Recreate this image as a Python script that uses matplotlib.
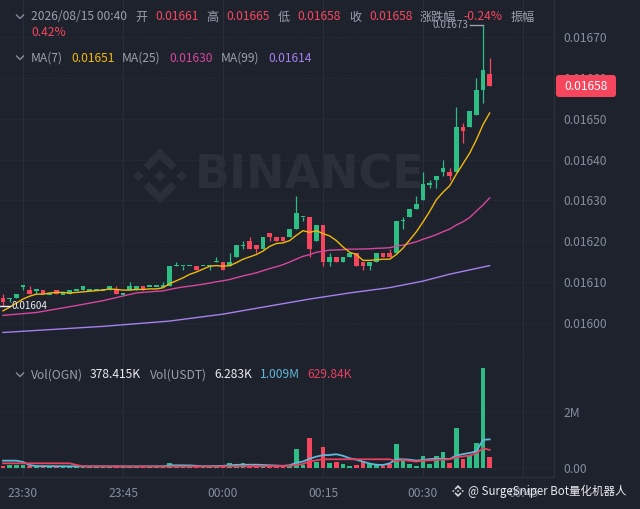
#!/usr/bin/env python3
"""
OGN/USDT 1m candles with MA(7/25/99) and volume, Binance dark style.
"""

import numpy as np
import pandas as pd
import matplotlib

matplotlib.use("Agg")
import matplotlib.pyplot as plt
from matplotlib.patches import Polygon, FancyBboxPatch
from matplotlib.lines import Line2D
from matplotlib.transforms import IdentityTransform

plt.rcParams["font.family"] = ["Noto Sans CJK SC", "DejaVu Sans"]

# 1-minute candles 23:27 .. 00:40, prices in units of 0.00001 USDT
opens = [1606, 1606, 1606, 1609, 1608, 1608, 1608, 1607, 1608, 1607,
         1607, 1608, 1608, 1608, 1608, 1608, 1608, 1608, 1607, 1608,
         1608, 1609, 1609, 1609, 1609, 1609, 1614, 1614, 1614, 1614,
         1614, 1614, 1615, 1615, 1614, 1616, 1619, 1620, 1619, 1618,
         1622, 1621, 1621, 1621, 1623, 1626, 1626, 1620, 1624, 1615,
         1616, 1615, 1616, 1617, 1615, 1614, 1615, 1617, 1617, 1617,
         1625, 1626, 1628, 1630, 1634, 1635, 1637, 1637, 1637, 1648,
         1648, 1651, 1657, 1661]
highs = [1607, 1606, 1607, 1609, 1609, 1608, 1608, 1607, 1608, 1607,
         1608, 1608, 1609, 1608, 1608, 1608, 1609, 1609, 1607, 1610,
         1609, 1609, 1609, 1609, 1610, 1614, 1615, 1614, 1614, 1614,
         1614, 1614, 1616, 1615, 1617, 1619, 1620, 1621, 1619, 1621,
         1622, 1621, 1621, 1623, 1631, 1626, 1626, 1624, 1624, 1617,
         1616, 1616, 1617, 1617, 1615, 1615, 1617, 1617, 1618, 1625,
         1626, 1628, 1631, 1637, 1635, 1636, 1640, 1638, 1653, 1649,
         1652, 1660, 1673, 1665]
lows = [1604, 1605, 1606, 1608, 1607, 1607, 1607, 1607, 1607, 1607,
        1607, 1608, 1608, 1608, 1608, 1608, 1608, 1607, 1607, 1608,
        1608, 1608, 1609, 1609, 1609, 1609, 1614, 1613, 1614, 1613,
        1614, 1613, 1615, 1613, 1614, 1616, 1618, 1618, 1617, 1618,
        1620, 1620, 1620, 1621, 1623, 1625, 1616, 1620, 1614, 1614,
        1615, 1615, 1616, 1614, 1613, 1613, 1615, 1616, 1616, 1617,
        1623, 1626, 1628, 1630, 1633, 1633, 1636, 1635, 1637, 1644,
        1648, 1651, 1654, 1658]
closes = [1605, 1606, 1607, 1609, 1607, 1608, 1607, 1607, 1607, 1607,
          1608, 1608, 1609, 1608, 1608, 1608, 1609, 1607, 1607, 1609,
          1609, 1608, 1609, 1609, 1609, 1614, 1614, 1614, 1614, 1613,
          1614, 1614, 1615, 1613, 1615, 1619, 1619, 1618, 1618, 1621,
          1621, 1620, 1620, 1623, 1627, 1626, 1618, 1624, 1615, 1616,
          1615, 1616, 1617, 1614, 1614, 1615, 1617, 1616, 1616, 1625,
          1625, 1628, 1629, 1634, 1634, 1636, 1638, 1636, 1648, 1647,
          1652, 1657, 1662, 1658]
# volume in thousand OGN
volumes_k = [70, 80, 80, 80, 70, 60, 45, 50, 40, 35,
             45, 40, 50, 30, 30, 35, 40, 35, 30, 35,
             40, 35, 30, 30, 40, 160, 45, 35, 30, 40,
             25, 25, 30, 60, 170, 80, 170, 60, 50, 70,
             40, 45, 50, 60, 680, 85, 1060, 200, 725, 165,
             200, 120, 50, 85, 200, 120, 95, 50, 120, 860,
             310, 120, 70, 405, 143, 405, 548, 167, 1430, 310,
             440, 880, 3570, 378.415]

# MA values before a full window exists
ma7_head_idx = [0, 1, 2, 3, 4, 5]
ma7_head = [1602.9, 1603.8, 1604.8, 1605.8, 1606.5, 1607.0]
ma25_head_idx = [0, 5, 11, 15, 20, 23]
ma25_head = [1601.8, 1602.5, 1604.2, 1605.4, 1607.3, 1607.7]
ma99_idx = [0, 15, 25, 33, 40, 46, 52, 58, 63, 67, 73]
ma99_vals = [1597.6, 1599.1, 1600.4, 1602.1, 1604.1, 1605.8, 1607.3, 1608.6,
             1610.2, 1611.9, 1614.0]

# volume MA(5) / MA(10) as drawn, thousand OGN
vma5_idx = [0, 2, 3, 4, 5, 10, 20, 24, 25, 28, 30, 33, 35, 38, 42, 43, 44, 45,
            46, 47, 48, 49, 50, 51, 52, 53, 54, 55, 56, 57, 58, 59, 60, 61, 62,
            63, 64, 65, 66, 67, 68, 69, 70, 71, 72, 73]
vma5_k = [245, 245, 200, 85, 50, 43, 40, 45, 80, 75, 45, 60, 95, 100, 60, 80,
          170, 215, 316, 390, 440, 450, 475, 420, 330, 280, 210, 140, 100, 90,
          150, 295, 295, 280, 245, 270, 300, 316, 310, 305, 425, 480, 520, 580,
          990, 1009]
vma10_idx = [0, 10, 11, 12, 20, 30, 40, 43, 45, 46, 48, 55, 58, 59, 60, 62, 63,
             65, 67, 68, 70, 71, 72, 73]
vma10_k = [150, 150, 90, 43, 35, 35, 50, 55, 125, 220, 295, 295, 295, 235, 270,
           210, 245, 270, 295, 367, 425, 510, 690, 630]

time_ticks = [3, 18, 33, 48, 63, 78]
time_labels = ["23:30", "23:45", "00:00", "00:15", "00:30", "00:45"]
price_ticks = [0.0160, 0.0161, 0.0162, 0.0163, 0.0164, 0.0165, 0.0166, 0.0167]

BG = "#1e222d"
GRID = "#2a2e39"
EDGE = "#2b3139"
GRAY = "#848e9c"
LABEL = "#9aa1ad"
UP = "#2ebd85"
DN = "#f6465d"
C_MA7 = "#f0b90b"
C_MA25 = "#d7479d"
C_MA99 = "#a580ec"
C_V5 = "#5fb9d8"
C_V10 = "#e8405f"
FS = 8.7

W, H = 640, 509
ID = IdentityTransform()


def main() -> None:
    o = np.array(opens) * 1e-5
    hi = np.array(highs) * 1e-5
    lo = np.array(lows) * 1e-5
    c = np.array(closes) * 1e-5
    vol = np.array(volumes_k) * 1e3
    idx = np.arange(len(c))

    fig = plt.figure(figsize=(W / 100, H / 100), dpi=100, facecolor=BG)
    ax = fig.add_axes([0, 1 - 358 / H, 554 / W, 358 / H], facecolor=BG)
    axv = fig.add_axes([0, 1 - 477 / H, 554 / W, (477 - 358) / H], facecolor=BG)

    for a in (ax, axv):
        a.set_xlim(-0.45, 82.65)
        for s in ("top", "left"):
            a.spines[s].set_visible(False)
        for s in ("bottom", "right"):
            a.spines[s].set_color(EDGE)
            a.spines[s].set_linewidth(1.0)
        a.yaxis.tick_right()
        a.tick_params(axis="y", length=0, pad=6.5, labelsize=FS, labelcolor=GRAY)
        a.set_xticks(time_ticks)
        a.grid(axis="x", color=GRID, lw=0.8)
        a.grid(axis="y", color=GRID, lw=0.8, ls=(0, (1.5, 2)))
        a.set_axisbelow(True)
    ax.tick_params(axis="x", length=0, labelbottom=False)
    axv.set_xticklabels(time_labels)
    axv.tick_params(axis="x", length=0, pad=7.5, labelsize=FS, labelcolor=GRAY)

    # ---- price panel
    ax.set_ylim(0.0159134, 0.0167915)
    ax.set_yticks(price_ticks)
    ax.set_yticklabels([f"{p:.5f}" for p in price_ticks])

    up = c >= o
    colors = np.where(up, UP, DN)
    ax.vlines(idx, lo, hi, colors=colors, lw=0.9, zorder=2)
    body = np.abs(c - o)
    min_h = 3.4e-6
    bottom = np.minimum(o, c) - np.where(body < min_h, (min_h - body) / 2, 0)
    ax.bar(idx, np.maximum(body, min_h), 0.68, bottom=bottom, color=colors,
           lw=0, zorder=3)

    cs = pd.Series(c)
    ma7 = cs.rolling(7).mean().to_numpy()
    ma25 = cs.rolling(25).mean().to_numpy()
    ma7_x = np.concatenate([ma7_head_idx, idx[6:]])
    ma7_y = np.concatenate([np.array(ma7_head) * 1e-5, ma7[6:]])
    ma25_x = np.concatenate([ma25_head_idx, idx[24:]])
    ma25_y = np.concatenate([np.array(ma25_head) * 1e-5, ma25[24:]])
    ax.plot(ma99_idx, np.array(ma99_vals) * 1e-5, color=C_MA99, lw=1.0, zorder=4)
    ax.plot(ma25_x, ma25_y, color=C_MA25, lw=1.0, zorder=4)
    ax.plot(ma7_x, ma7_y, color=C_MA7, lw=1.0, zorder=4)

    # highest / lowest markers
    ih = int(np.argmax(hi))
    ax.plot([ih - 1.9, ih], [hi[ih], hi[ih]], color="#9aa1ad", lw=1.0, zorder=5)
    ax.text(ih - 2.2, hi[ih], f"{hi[ih]:.5f}", color="#9aa1ad", fontsize=7.2,
            ha="right", va="center", zorder=5)
    il = int(np.argmin(lo))
    ax.plot([il - 0.45, il + 1.0], [lo[il], lo[il]], color="#eaecef", lw=1.0, zorder=5)
    ax.text(il + 1.3, lo[il], f"{lo[il]:.5f}", color="#eaecef", fontsize=7.2,
            ha="left", va="center", zorder=5)

    # watermark
    wm = "#2a2f3a"
    ax.text(310, H - 176, "BINANCE", transform=ID, color=wm, fontsize=33,
            fontweight="bold", family="DejaVu Sans", ha="center", va="center",
            zorder=0.5)
    draw_logo(ax, 160, 176, 30, wm, 0.5)

    # ---- volume panel
    axv.set_ylim(-0.3405e6, 3.925e6)
    axv.set_yticks([0, 2e6])
    axv.set_yticklabels(["0.00", "2M"])
    axv.bar(idx, vol, 0.68, color=colors, lw=0, zorder=2)
    axv.plot(vma5_idx, np.array(vma5_k) * 1e3, color=C_V5, lw=1.3, zorder=3)
    axv.plot(vma10_idx, np.array(vma10_k) * 1e3, color=C_V10, lw=1.3, zorder=3)

    # ---- header texts
    prev = c[-2]
    chg = (c[-1] - prev) / prev * 100
    amp = (hi[-1] - lo[-1]) / prev * 100
    line1 = [
        (31, "2026/08/15 00:40", LABEL), (135, "开", LABEL),
        (155, f"{o[-1]:.5f}", DN), (206, "高", LABEL),
        (226, f"{hi[-1]:.5f}", DN), (278, "低", LABEL),
        (297, f"{lo[-1]:.5f}", DN), (349, "收", LABEL),
        (369, f"{c[-1]:.5f}", DN), (420, "涨跌幅", LABEL),
        (463, f"{chg:.2f}%", DN), (511, "振幅", LABEL),
    ]
    for x, s, col in line1:
        put(fig, x, 17, s, col)
    put(fig, 31, 33, f"{amp:.2f}%", DN)

    ma_line = [
        (31, "MA(7)", LABEL), (71, "0.01651", C_MA7),
        (122, "MA(25)", LABEL), (169, "0.01630", C_MA25),
        (221, "MA(99)", LABEL), (268, "0.01614", C_MA99),
    ]
    for x, s, col in ma_line:
        put(fig, x, 58, s, col)

    vol_line = [
        (31, "Vol(OGN)", LABEL), (90, "378.415K", "#eaecef"),
        (150, "Vol(USDT)", LABEL), (214, "6.283K", "#eaecef"),
        (260, "1.009M", C_V5), (307, "629.84K", C_V10),
    ]
    for x, s, col in vol_line:
        put(fig, x, 375, s, col)

    for yy in (17, 58, 375):
        fig.add_artist(Line2D([16.5, 20, 23.5], [H - yy + 2, H - yy - 1.5, H - yy + 2],
                              color=GRAY, lw=1.0, transform=ID))

    # current price tag
    fig.add_artist(FancyBboxPatch((556, H - 97), 60, 22,
                                  boxstyle="round,pad=0,rounding_size=3",
                                  fc=DN, ec="none", transform=ID, zorder=5))
    fig.text(586, H - 86.5, f"{c[-1]:.5f}", transform=ID, color="white",
             fontsize=FS, ha="center", va="center", zorder=6)

    # bottom-right watermark
    draw_logo(fig, 458, 491, 6.5, "#d5d8dc", 6)
    fig.text(468, H - 491, "@ SurgeSniper Bot量化机器人", transform=ID,
             color="#eaecef", fontsize=8.3, ha="left", va="center", zorder=6)

    fig.savefig("out.png", dpi=100, facecolor=BG)
    plt.close(fig)


def put(fig, x, y, s, col):
    fig.text(x, H - y, s, transform=ID, color=col, fontsize=FS,
             ha="left", va="center")


def draw_logo(target, cx, cy, r, col, z):
    """Rough Binance diamond logo, centre (cx, cy) in pixels from top-left."""
    def tr(pts):
        return [(cx + px * r, H - cy + py * r) for px, py in pts]

    shapes = []
    for dx in (-0.72, 0.0, 0.72):
        shapes.append([(dx - 0.18, 0), (dx, 0.18), (dx + 0.18, 0), (dx, -0.18)])
    top = [(-0.55, 0.37), (0, 0.92), (0.55, 0.37), (0.37, 0.19), (0, 0.56), (-0.37, 0.19)]
    shapes.append(top)
    shapes.append([(px, -py) for px, py in top])
    for sh in shapes:
        p = Polygon(tr(sh), closed=True, fc=col, ec="none", transform=ID, zorder=z)
        if hasattr(target, "add_patch"):
            p.set_clip_on(False)
            target.add_patch(p)
        else:
            target.add_artist(p)


if __name__ == "__main__":
    main()
